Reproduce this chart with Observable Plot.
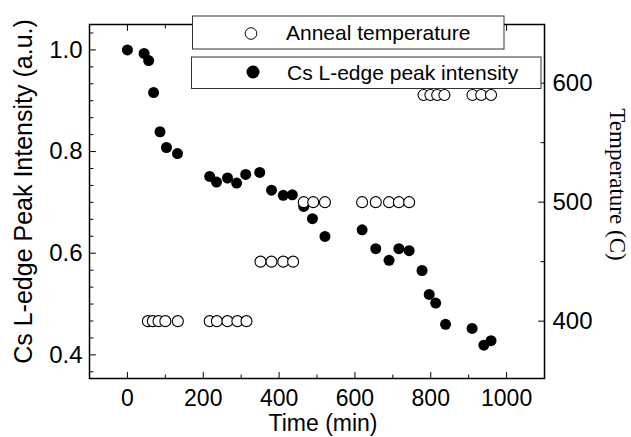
<!DOCTYPE html>
<html><head><meta charset="utf-8">
<script src="https://cdn.jsdelivr.net/npm/d3@7"></script>
<script src="https://cdn.jsdelivr.net/npm/@observablehq/plot@0.6"></script>
<style>body{margin:0;background:#fff}</style>
</head><body><div id="chart"></div>
<script>
// ---- data ----
const timeIntensity = [0,44,56,69,86,103,132,217,235,264,288,312,349,380,411,435,465,488,521,619,655,690,716,743,777,796,813,839,909,940,959];
const intensity = [1.000,0.993,0.979,0.916,0.839,0.808,0.796,0.751,0.740,0.748,0.738,0.755,0.759,0.724,0.714,0.715,0.692,0.668,0.633,0.646,0.609,0.586,0.609,0.605,0.566,0.519,0.502,0.460,0.452,0.419,0.428];
const timeTemp = [54,67,82,100,133,217,236,264,290,314,351,380,411,437,465,490,521,619,655,690,716,743,781,799,817,836,910,933,959];
const temperature = [400,400,400,400,400,400,400,400,400,400,450,450,450,450,500,500,500,500,500,500,500,500,590,590,590,590,590,590,590];
const xMajorTicks = [0,200,400,600,800,1000];
const xMinorTicks = [100,300,500,700,900];
const yMajorTicks = [0.4,0.6,0.8,1.0];
const tempMajorTicks = [400,500,600];
const tempMinorTicks = [450,550];
const legendLabels = ["Anneal temperature","Cs L-edge peak intensity"];
const xLabel = "Time (min)";
const yLabel = "Cs L-edge Peak Intensity (a.u.)";
const y2Label = "Temperature (C)";

// ---- scales ----
const xDomain = [-100, 1100];
const yDomain = [0.3535, 1.05];
const tDomain = [351.8, 649.3];
const t2y = t => yDomain[0] + (t - tDomain[0]) * (yDomain[1] - yDomain[0]) / (tDomain[1] - tDomain[0]);
const y2t = y => tDomain[0] + (y - yDomain[0]) * (tDomain[1] - tDomain[0]) / (yDomain[1] - yDomain[0]);
const yMinorTicks = d3.range(-1, 20).map(k => 0.4 + k / 30).filter(v => v > yDomain[0] && v < yDomain[1] && !yMajorTicks.some(m => Math.abs(m - v) < 1e-6));

const intensityData = timeIntensity.map((t, i) => ({time: t, value: intensity[i]}));
const tempData = timeTemp.map((t, i) => ({time: t, temp: temperature[i]}));

const line = {draw(ctx, l) { ctx.moveTo(0, 0); ctx.lineTo(0, -l); }};
const tick = (data, side, len, acc) => Plot.vector(data, {
  ...(side === "top" || side === "bottom" ? {x: acc} : {y: acc}),
  frameAnchor: side, length: len, anchor: "start", shape: line,
  rotate: side === "bottom" ? 0 : side === "top" ? 180 : side === "left" ? 90 : -90,
  stroke: "#000", strokeWidth: 1
});

const svg = Plot.plot({
  width: 631, height: 437,
  marginLeft: 89, marginRight: 87, marginTop: 24, marginBottom: 59,
  style: {fontFamily: "Liberation Sans", color: "#000", background: "#fff"},
  x: {domain: xDomain},
  y: {domain: yDomain},
  marks: [
    Plot.frame({stroke: "#000", strokeWidth: 1.5}),
    tick(xMajorTicks, "bottom", 6, d => d),
    tick(xMinorTicks, "bottom", 3.5, d => d),
    tick(xMajorTicks, "top", 6, d => d),
    tick(xMinorTicks, "top", 3.5, d => d),
    tick(yMajorTicks, "left", 6, d => d),
    tick(yMinorTicks, "left", 3.5, d => d),
    tick(tempMajorTicks, "right", 6, d => t2y(d)),
    tick(tempMinorTicks, "right", 3.5, d => t2y(d)),
    Plot.axisX(xMajorTicks, {anchor: "bottom", tickSize: 0, tickPadding: 11, tickFormat: d => String(d), fontSize: 23, label: null}),
    Plot.axisY(yMajorTicks, {anchor: "left", tickSize: 0, tickPadding: 7, tickFormat: ".1f", fontSize: 24, label: null}),
    Plot.axisY(tempMajorTicks.map(t2y), {anchor: "right", tickSize: 0, tickPadding: 8, tickFormat: d => String(Math.round(y2t(d))), fontSize: 24, label: null}),
    Plot.text([xLabel], {text: d => d, frameAnchor: "bottom", textAnchor: "middle", lineAnchor: "middle", dx: 6, dy: 45.5, fontSize: 23}),
    Plot.text([yLabel], {text: d => d, frameAnchor: "left", textAnchor: "middle", lineAnchor: "middle", rotate: -90, dx: -66, dy: -10, fontSize: 25}),
    Plot.text([y2Label], {text: d => d, frameAnchor: "right", textAnchor: "middle", lineAnchor: "middle", rotate: 90, dx: 73, dy: -17, fontSize: 23, fontFamily: "Liberation Serif"}),
    Plot.dot(intensityData, {x: "time", y: "value", r: 5.5, fill: "#000", stroke: "none"}),
    Plot.dot(tempData, {x: "time", y: d => t2y(d.temp), r: 5.5, fill: "#fff", stroke: "#000", strokeWidth: 1.1})
  ]
});

// ---- legend boxes ----
const g = d3.select(svg).append("g").attr("font-family", "Liberation Sans").attr("font-size", 21).attr("text-anchor", "start");
const boxes = [
  {x: 192.5, y: 16, w: 311.5, h: 33, mx: 251, my: 33.5, tx: 286, ty: 40, filled: false},
  {x: 191.5, y: 57, w: 349.5, h: 31.5, mx: 253, my: 72, tx: 287, ty: 79.5, filled: true}
];
boxes.forEach((b, i) => {
  g.append("rect").attr("x", b.x).attr("y", b.y).attr("width", b.w).attr("height", b.h)
    .attr("fill", "#fff").attr("stroke", "#333").attr("stroke-width", 1);
  g.append("circle").attr("cx", b.mx).attr("cy", b.my).attr("r", b.filled ? 6.5 : 5.8)
    .attr("fill", b.filled ? "#000" : "#fff").attr("stroke", "#000").attr("stroke-width", b.filled ? 0 : 1);
  g.append("text").attr("x", b.tx).attr("y", b.ty).attr("fill", "#000").attr("text-anchor", "start").text(legendLabels[i]);
});

document.getElementById("chart").appendChild(svg);
</script>
</body></html>
